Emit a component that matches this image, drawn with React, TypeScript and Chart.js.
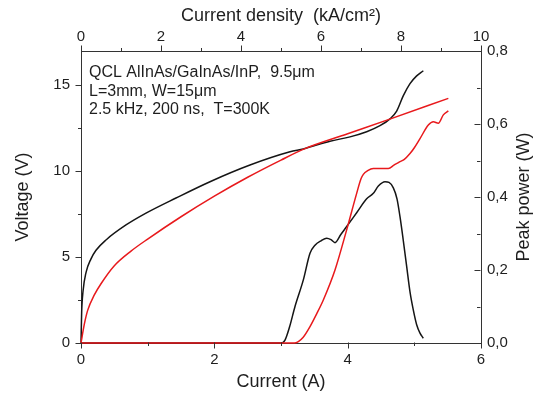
import { useEffect, useRef } from "react";
import { Chart, registerables } from "chart.js";

Chart.register(...registerables);

// ---------- data ----------
const blackVoltageI = [0, 0.01, 0.03, 0.075, 0.15, 0.225, 0.375, 0.675, 0.975, 1.425, 1.935, 2.535, 3.135, 3.335, 3.735, 4.035, 4.285, 4.485, 4.635, 4.735, 4.835, 4.935, 5.035, 5.135];
const blackVoltageV = [0, 1.8, 3.0, 4.1, 4.9, 5.4, 6.0, 6.87, 7.56, 8.44, 9.39, 10.36, 11.13, 11.3, 11.75, 12.0, 12.3, 12.65, 13.05, 13.5, 14.4, 15.1, 15.55, 15.85];

const redVoltageI = [0, 0.05, 0.1, 0.2, 0.3, 0.5, 0.75, 1.0, 1.5, 2.0, 2.5, 3.0, 3.35, 4.0, 4.6, 5.51];
const redVoltageV = [0, 1.1, 1.9, 2.8, 3.45, 4.5, 5.35, 6.05, 7.35, 8.55, 9.65, 10.65, 11.3, 12.18, 12.99, 14.24];

const blackPowerI = [0, 3.0, 3.06, 3.13, 3.21, 3.335, 3.435, 3.51, 3.6, 3.685, 3.75, 3.81, 3.9, 3.985, 4.135, 4.285, 4.385, 4.46, 4.56, 4.62, 4.685, 4.74, 4.785, 4.835, 4.885, 4.935, 4.985, 5.035, 5.085, 5.135];
const blackPowerW = [0, 0, 0.008, 0.045, 0.1, 0.173, 0.246, 0.268, 0.28, 0.287, 0.283, 0.275, 0.298, 0.319, 0.357, 0.395, 0.41, 0.43, 0.442, 0.44, 0.425, 0.395, 0.346, 0.28, 0.21, 0.14, 0.09, 0.05, 0.027, 0.013];

const redPowerI = [0, 3.2, 3.26, 3.33, 3.435, 3.535, 3.635, 3.81, 3.985, 4.135, 4.2, 4.235, 4.3, 4.385, 4.5, 4.61, 4.7, 4.785, 4.85, 4.935, 5.0, 5.085, 5.21, 5.285, 5.36, 5.435, 5.51];
const redPowerW = [0, 0, 0.004, 0.015, 0.045, 0.08, 0.118, 0.2, 0.31, 0.41, 0.45, 0.462, 0.472, 0.478, 0.478, 0.478, 0.488, 0.497, 0.503, 0.519, 0.535, 0.56, 0.597, 0.606, 0.602, 0.625, 0.636];

const currentMajor = [0, 2, 4, 6];
const currentMinor = [1, 3, 5];
const densityMajor = [0, 2, 4, 6, 8, 10];
const densityMinor = [1, 3, 5, 7, 9];
const voltageMajor = [0, 5, 10, 15];
const voltageMinor = [2.5, 7.5, 12.5];
const powerMajor = [0, 0.2, 0.4, 0.6, 0.8];
const powerMinor = [0.1, 0.3, 0.5, 0.7];

const annotationLines = [
  "QCL AlInAs/GaInAs/InP,  9.5\u03bcm",
  "L=3mm, W=15\u03bcm",
  "2.5 kHz, 200 ns,  T=300K",
];

// ---------- styles ----------
const FONT = "'Liberation Sans', Arial, sans-serif";
const AXIS = "#333333";
const TEXT = "#1e1e1e";
const BLACK = "#151515";
const RED = "#e8191c";

const pts = (xs: number[], ys: number[]) => xs.map((x, i) => ({ x, y: ys[i] }));

const tickMarks = {
  id: "tickMarks",
  afterDraw(chart: any) {
    const ctx = chart.ctx;
    const { left, right, top, bottom } = chart.chartArea;
    const { x, x2, y, y2 } = chart.scales;
    const MAJ = 6;
    const MIN = 3.5;
    ctx.save();
    ctx.strokeStyle = AXIS;
    ctx.lineWidth = 1;
    const line = (x1: number, y1: number, x2_: number, y2_: number) => {
      ctx.beginPath();
      ctx.moveTo(x1, y1);
      ctx.lineTo(x2_, y2_);
      ctx.stroke();
    };
    const a = (p: number) => Math.round(p) + 0.5;
    const B = a(bottom - 1);
    const T = a(top);
    const L = a(left);
    const R = a(right - 1);
    currentMajor.forEach((v) => { const p = a(x.getPixelForValue(v)); line(p, B, p, B + MAJ); });
    currentMinor.forEach((v) => { const p = a(x.getPixelForValue(v)); line(p, B, p, B + MIN); });
    densityMajor.forEach((v) => { const p = a(x2.getPixelForValue(v)); line(p, T, p, T - MAJ); });
    densityMinor.forEach((v) => { const p = a(x2.getPixelForValue(v)); line(p, T, p, T - MIN); });
    voltageMajor.forEach((v) => { const p = a(y.getPixelForValue(v)); line(L, p, L - MAJ, p); });
    voltageMinor.forEach((v) => { const p = a(y.getPixelForValue(v)); line(L, p, L - MIN, p); });
    powerMajor.forEach((v) => { const p = a(y2.getPixelForValue(v)); line(R, p, R - MAJ, p); });
    powerMinor.forEach((v) => { const p = a(y2.getPixelForValue(v)); line(R, p, R - MIN, p); });

    // annotation text
    ctx.fillStyle = TEXT;
    ctx.font = `16px ${FONT}`;
    ctx.textAlign = "left";
    ctx.textBaseline = "alphabetic";
    annotationLines.forEach((t, i) => ctx.fillText(t, left + 8, top + 26 + i * 18.5));

    // right axis title, reading bottom to top
    ctx.font = `18px ${FONT}`;
    ctx.textAlign = "center";
    ctx.textBaseline = "middle";
    ctx.translate(524, (top + bottom) / 2);
    ctx.rotate(-Math.PI / 2);
    ctx.fillText("Peak power (W)", 0, 0);
    ctx.restore();
  },
};

export default function App() {
  const ref = useRef<HTMLCanvasElement | null>(null);
  useEffect(() => {
    if (!ref.current) return;
    const tickFont = { family: FONT, size: 15 };
    const titleFont = { family: FONT, size: 18 };
    const chart = new Chart(ref.current, {
      type: "line",
      data: {
        datasets: [
          { label: "red power", data: pts(redPowerI, redPowerW), yAxisID: "y2", borderColor: RED, borderWidth: 1.5, pointRadius: 0, cubicInterpolationMode: "monotone", clip: false } as any,
          { label: "red voltage", data: pts(redVoltageI, redVoltageV), yAxisID: "y", borderColor: RED, borderWidth: 1.5, pointRadius: 0, cubicInterpolationMode: "monotone", clip: false } as any,
          { label: "black power", data: pts(blackPowerI, blackPowerW), yAxisID: "y2", borderColor: BLACK, borderWidth: 1.5, pointRadius: 0, cubicInterpolationMode: "monotone", clip: false } as any,
          { label: "black voltage", data: pts(blackVoltageI, blackVoltageV), yAxisID: "y", borderColor: BLACK, borderWidth: 1.5, pointRadius: 0, cubicInterpolationMode: "monotone", clip: false } as any,
        ],
      },
      options: {
        responsive: false,
        animation: false,
        layout: { padding: 0 },
        plugins: { legend: { display: false }, tooltip: { enabled: false } },
        scales: {
          x: {
            type: "linear", position: "bottom", min: 0, max: 6,
            grid: { display: false, drawTicks: false },
            border: { display: true, color: AXIS, width: 1 },
            ticks: { stepSize: 2, font: tickFont, color: TEXT, padding: 8, maxRotation: 0, autoSkip: false, includeBounds: false },
            title: { display: true, text: "Current (A)", font: titleFont, color: TEXT, padding: { top: 0, bottom: 1 } },
            afterFit: (s: any) => { s.height = 51; },
          },
          x2: {
            type: "linear", position: "top", min: 0, max: 10,
            grid: { display: false, drawTicks: false },
            border: { display: true, color: AXIS, width: 1 },
            ticks: { stepSize: 2, font: tickFont, color: TEXT, padding: 5, maxRotation: 0, autoSkip: false, includeBounds: false },
            title: { display: true, text: "Current density  (kA/cm\u00b2)", font: titleFont, color: TEXT, padding: { top: 5, bottom: 0 } },
            afterFit: (s: any) => { s.height = 51; },
          },
          y: {
            type: "linear", position: "left", min: 0, max: 17,
            grid: { display: false, drawTicks: false },
            border: { display: true, color: AXIS, width: 1 },
            ticks: { stepSize: 5, font: tickFont, color: TEXT, padding: 11, autoSkip: false, includeBounds: false },
            title: { display: true, text: "Voltage (V)", font: titleFont, color: TEXT, padding: { top: 12, bottom: 0 } },
            afterFit: (s: any) => { s.width = 81; },
          },
          y2: {
            type: "linear", position: "right", min: 0, max: 0.8,
            grid: { display: false, drawTicks: false },
            border: { display: true, color: AXIS, width: 1 },
            ticks: {
              stepSize: 0.2, font: tickFont, color: TEXT, padding: 6, autoSkip: false, includeBounds: false,
              callback: (v: any) => Number(v).toFixed(1).replace(".", ","),
            },
            title: { display: false },
            afterFit: (s: any) => { s.width = 58; },
          },
        },
      } as any,
      plugins: [tickMarks],
    });
    return () => chart.destroy();
  }, []);
  return (
    <div style={{ position: "fixed", left: 0, top: 0, width: 539, height: 394, background: "#fff" }}>
      <canvas ref={ref} width={539} height={394} style={{ display: "block" }} />
    </div>
  );
}
